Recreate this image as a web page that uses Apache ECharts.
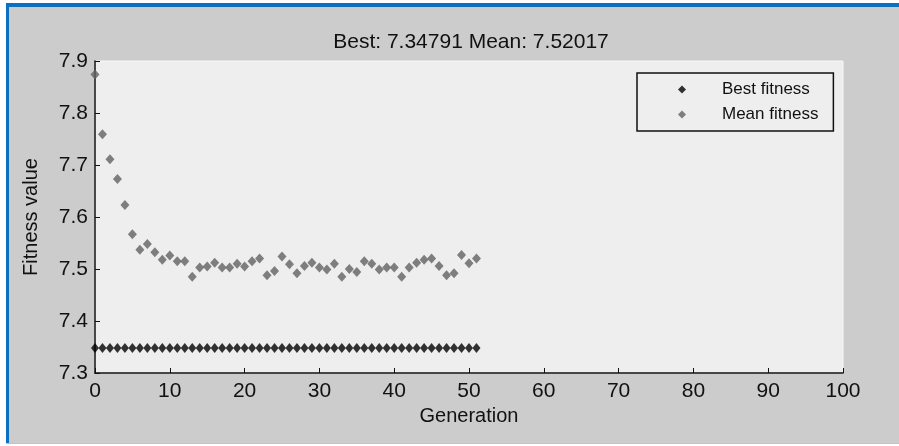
<!DOCTYPE html>
<html lang="en">
<head>
    <meta charset="UTF-8">
    <title>Fitness value</title>
    <style>
        html,body{
            padding: 0;
            margin: 0;
            background: #ffffff;
        }
        .chart{
            width: 899px;
            height: 446px;
        }
    </style>
    <script src="https://cdn.jsdelivr.net/npm/echarts@6/dist/echarts.min.js"></script>
</head>
<body>
<div class="chart"></div>
<script>
    // generation index = position in the arrays
    let bestFitness = [
        7.34791, 7.34791, 7.34791, 7.34791, 7.34791, 7.34791, 7.34791, 7.34791, 7.34791, 7.34791,
        7.34791, 7.34791, 7.34791, 7.34791, 7.34791, 7.34791, 7.34791, 7.34791, 7.34791, 7.34791,
        7.34791, 7.34791, 7.34791, 7.34791, 7.34791, 7.34791, 7.34791, 7.34791, 7.34791, 7.34791,
        7.34791, 7.34791, 7.34791, 7.34791, 7.34791, 7.34791, 7.34791, 7.34791, 7.34791, 7.34791,
        7.34791, 7.34791, 7.34791, 7.34791, 7.34791, 7.34791, 7.34791, 7.34791, 7.34791, 7.34791,
        7.34791, 7.34791
    ];

    let meanFitness = [
        7.874, 7.759, 7.711, 7.673, 7.623, 7.567, 7.537, 7.548, 7.532, 7.518,
        7.526, 7.515, 7.515, 7.485, 7.503, 7.505, 7.512, 7.503, 7.503, 7.510,
        7.505, 7.515, 7.520, 7.488, 7.496, 7.524, 7.509, 7.492, 7.506, 7.512,
        7.503, 7.499, 7.510, 7.485, 7.500, 7.494, 7.515, 7.510, 7.499, 7.503,
        7.503, 7.485, 7.503, 7.512, 7.518, 7.520, 7.506, 7.488, 7.492, 7.527,
        7.511, 7.52017
    ];

    let titleText = 'Best: 7.34791 Mean: 7.52017';
    let seriesNames = ['Best fitness', 'Mean fitness'];

    let font = 'Liberation Sans, Arial, sans-serif';

    let chart = echarts.init(document.querySelector('.chart'));

    let toPoints = arr => arr.map((v, i) => [i, v]);

    let axisCommon = {
        axisLine: {show: true, onZero: false, lineStyle: {color: '#111', width: 1.5}},
        axisTick: {show: true, inside: true, length: 5, lineStyle: {color: '#111', width: 1}},
        splitLine: {show: false},
        axisLabel: {color: '#111', fontSize: 21, fontFamily: font},
        nameTextStyle: {color: '#111', fontSize: 20, fontFamily: font}
    };

    let option = {
        backgroundColor: '#cccccc',
        animation: false,
        title: {
            text: titleText,
            left: 466,
            top: 27,
            textAlign: 'center',
            textStyle: {color: '#111', fontSize: 21, fontWeight: 'normal', fontFamily: font}
        },
        legend: {
            data: [
                {name: seriesNames[0], icon: 'diamond'},
                {name: seriesNames[1], icon: 'diamond'}
            ],
            orient: 'vertical',
            left: 637,
            top: 73,
            padding: [8, 15, 8, 41],
            itemGap: 8,
            itemWidth: 8,
            itemHeight: 8,
            backgroundColor: '#eeeeee',
            borderColor: '#111',
            borderWidth: 1.5,
            textStyle: {color: '#111', fontSize: 17, lineHeight: 17, fontFamily: font, padding: [0, 0, 0, 31]}
        },
        grid: {
            left: 95,
            right: 56,
            top: 61,
            bottom: 73,
            show: true,
            backgroundColor: '#eeeeee',
            borderColor: '#f8f8f8',
            borderWidth: 1
        },
        xAxis: Object.assign({}, axisCommon, {
            type: 'value',
            min: 0,
            max: 100,
            interval: 10,
            name: 'Generation',
            nameLocation: 'middle',
            nameGap: 33,
            axisLabel: Object.assign({}, axisCommon.axisLabel, {margin: 8})
        }),
        yAxis: Object.assign({}, axisCommon, {
            type: 'value',
            min: 7.3,
            max: 7.9,
            interval: 0.1,
            name: 'Fitness value',
            nameLocation: 'middle',
            nameGap: 54,
            axisLabel: Object.assign({}, axisCommon.axisLabel, {
                margin: 7,
                formatter: v => v.toFixed(1)
            })
        }),
        series: [
            {
                name: seriesNames[0],
                type: 'scatter',
                data: toPoints(bestFitness),
                symbol: 'diamond',
                symbolSize: [8, 10],
                itemStyle: {color: '#000000'},
                z: 3
            },
            {
                name: seriesNames[1],
                type: 'scatter',
                data: toPoints(meanFitness),
                symbol: 'diamond',
                symbolSize: [9, 10],
                itemStyle: {color: '#626262'},
                z: 2
            }
        ],
        graphic: [
            // window frame
            {type: 'rect', shape: {x: 0, y: 0, width: 899, height: 3}, style: {fill: '#ffffff'}, silent: true},
            {type: 'rect', shape: {x: 0, y: 0, width: 6, height: 446}, style: {fill: '#ffffff'}, silent: true},
            {type: 'rect', shape: {x: 6, y: 3, width: 893, height: 4}, style: {fill: '#0b6fc2'}, silent: true},
            {type: 'rect', shape: {x: 6, y: 3, width: 3, height: 441}, style: {fill: '#0b6fc2'}, silent: true},
            {type: 'rect', shape: {x: 6, y: 443, width: 893, height: 1}, style: {fill: '#b4c6d8'}, silent: true},
            {type: 'rect', shape: {x: 0, y: 444, width: 899, height: 2}, style: {fill: '#ffffff'}, silent: true}
        ]
    };

    chart.setOption(option);
</script>
</body>
</html>
